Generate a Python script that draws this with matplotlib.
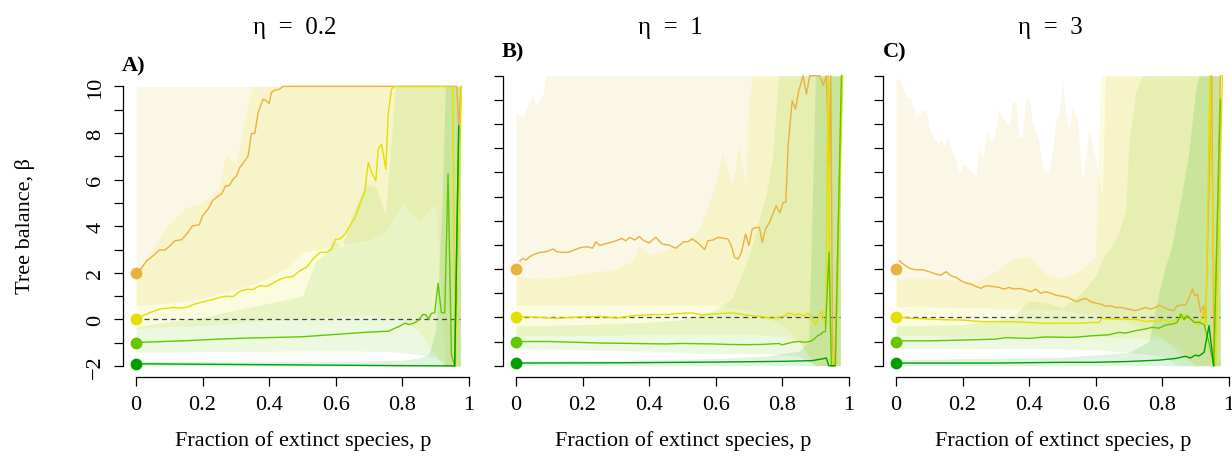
import matplotlib
matplotlib.use("Agg")
import matplotlib.pyplot as plt
import numpy as np

plt.rcParams['font.family'] = ['Liberation Serif', 'DejaVu Serif']

# ---------------- data ----------------
panel_titles = ["\u03b7  =  0.2", "\u03b7  =  1", "\u03b7  =  3"]
panel_letters = ["A)", "B)", "C)"]
x_ticks = [0, 0.2, 0.4, 0.6, 0.8, 1.0]
x_ticklabels = ["0", "0.2", "0.4", "0.6", "0.8", "1"]
y_ticks = list(range(-2, 11))
y_ticklabels = ["\u22122", "", "0", "", "2", "", "4", "", "6", "", "8", "", "10"]
start_values = [2.0, 0.0, -1.0, -1.9]
series_colors = ["#E9B23E", "#E3DF00", "#64C800", "#009E00"]
band_colors = ["#E2C23C", "#E3DF00", "#64C800", "#009E00"]

# Panel A median lines (x, beta)
A_orange = [(0, 2.0), (0.014, 2.16), (0.032, 2.52), (0.052, 2.74), (0.07, 2.98), (0.087, 2.98), (0.102, 3.16),
            (0.117, 3.38), (0.137, 3.42), (0.152, 3.66), (0.17, 4.02), (0.19, 4.06), (0.2, 4.45), (0.217, 4.74),
            (0.23, 5.09), (0.247, 5.3), (0.257, 5.38), (0.27, 5.74), (0.28, 5.74), (0.292, 6.02), (0.302, 6.16),
            (0.312, 6.52), (0.324, 6.74), (0.337, 7.02), (0.347, 7.98), (0.357, 7.98), (0.367, 8.88), (0.382, 9.45),
            (0.39, 9.4), (0.4, 9.26), (0.407, 9.74), (0.417, 9.84), (0.432, 9.88), (0.442, 10.0), (0.964, 10.0),
            (0.97, 8.3), (0.977, 10.0)]
A_yellow = [(0, 0.0), (0.014, 0.12), (0.032, 0.24), (0.052, 0.35), (0.072, 0.45), (0.092, 0.48), (0.112, 0.52),
            (0.132, 0.49), (0.152, 0.52), (0.172, 0.64), (0.202, 0.76), (0.232, 0.86), (0.252, 0.95), (0.272, 1.0),
            (0.292, 0.98), (0.312, 1.21), (0.332, 1.29), (0.352, 1.29), (0.372, 1.45), (0.392, 1.42), (0.412, 1.56),
            (0.432, 1.72), (0.452, 1.81), (0.472, 1.84), (0.492, 2.09), (0.512, 2.24), (0.532, 2.59), (0.553, 2.88),
            (0.573, 2.88), (0.588, 3.02), (0.6, 3.45), (0.613, 3.45), (0.628, 3.66), (0.643, 4.02), (0.658, 4.38),
            (0.673, 4.95), (0.688, 5.52), (0.698, 6.74), (0.708, 6.31), (0.721, 5.95), (0.728, 7.31), (0.738, 7.52),
            (0.751, 6.45), (0.758, 8.81), (0.768, 9.88), (0.778, 10.0), (0.952, 10.0), (0.96, -1.98), (0.978, 10.0)]
A_lightgreen = [(0, -1.0), (0.012, -0.98), (0.15, -0.91), (0.25, -0.84), (0.35, -0.79), (0.45, -0.76), (0.5, -0.74),
                (0.59, -0.65), (0.69, -0.55), (0.76, -0.5), (0.78, -0.36), (0.79, -0.31), (0.80, -0.22), (0.81, -0.16),
                (0.82, -0.22), (0.835, -0.16), (0.85, -0.02), (0.862, 0.21), (0.871, 0.21), (0.879, 0.02),
                (0.888, 0.26), (0.898, 0.29), (0.908, 1.55), (0.918, 0.29), (0.928, 0.29), (0.938, 6.26),
                (0.948, -1.5), (0.958, -2.0), (0.97, 8.3)]
A_green = [(0, -1.9), (0.3, -1.93), (0.5, -1.95), (0.79, -1.98), (0.95, -1.99), (0.958, -2.0), (0.97, 8.3)]

# Panel B median lines
B_orange = [(0.012, 2.34), (0.022, 2.44), (0.03, 2.37), (0.042, 2.52), (0.057, 2.62), (0.072, 2.69), (0.092, 2.72),
            (0.112, 2.83), (0.122, 2.72), (0.137, 2.69), (0.157, 2.69), (0.177, 2.8), (0.197, 2.9), (0.217, 2.92),
            (0.23, 2.86), (0.24, 3.13), (0.252, 2.97), (0.272, 3.06), (0.292, 3.13), (0.307, 3.2), (0.317, 3.27),
            (0.33, 3.17), (0.342, 3.31), (0.357, 3.2), (0.37, 3.35), (0.382, 3.2), (0.4, 3.08), (0.42, 3.31),
            (0.44, 3.03), (0.46, 2.99), (0.48, 2.86), (0.492, 2.99), (0.504, 3.13), (0.517, 3.13), (0.53, 3.24),
            (0.542, 3.13), (0.554, 2.99), (0.567, 2.8), (0.577, 3.17), (0.592, 3.2), (0.607, 3.31), (0.622, 3.28),
            (0.637, 3.24), (0.647, 2.97), (0.657, 2.48), (0.667, 2.41), (0.677, 2.66), (0.69, 3.45), (0.7, 2.97),
            (0.71, 3.66), (0.722, 3.72), (0.732, 3.72), (0.74, 3.1), (0.75, 3.66), (0.762, 3.93), (0.772, 4.28),
            (0.782, 4.62), (0.793, 4.32), (0.803, 4.76), (0.811, 4.76), (0.818, 7.1), (0.83, 8.97), (0.84, 8.62),
            (0.85, 9.38), (0.863, 10.0), (0.873, 9.24), (0.883, 10.0), (0.913, 10.0), (0.923, 9.6), (0.933, 10.0),
            (0.941, 6.3), (0.946, 10.0), (0.952, -2.0), (0.958, -2.0), (0.98, 10.0)]
B_yellow = [(0.012, 0.03), (0.072, 0.0), (0.122, -0.04), (0.182, 0.01), (0.252, 0.04), (0.302, -0.03),
            (0.352, 0.07), (0.402, 0.11), (0.452, 0.12), (0.512, 0.18), (0.53, 0.18), (0.56, 0.1), (0.59, 0.14),
            (0.62, 0.16), (0.652, 0.18), (0.69, 0.1), (0.73, 0.04), (0.77, -0.04), (0.79, 0.0), (0.81, 0.07),
            (0.82, 0.18), (0.837, 0.1), (0.852, 0.14), (0.867, 0.07), (0.877, 0.18), (0.887, 0.07), (0.901, -0.34),
            (0.918, 0.28), (0.931, -0.34), (0.938, 10.0), (0.944, -0.4), (0.952, -2.0), (0.96, -2.0), (0.982, 10.0)]
B_lightgreen = [(0.012, -1.0), (0.1, -1.0), (0.25, -1.06), (0.45, -1.1), (0.5, -1.08), (0.59, -1.1), (0.64, -1.12),
                (0.69, -1.13), (0.74, -1.12), (0.79, -1.08), (0.8, -1.14), (0.81, -1.1), (0.83, -1.03), (0.85, -1.0),
                (0.87, -1.03), (0.89, -0.97), (0.907, -0.76), (0.917, -0.69), (0.924, -0.59), (0.93, -0.59),
                (0.941, 2.7), (0.948, -2.0), (0.96, -2.0), (0.978, 10.0)]
B_green = [(0.012, -1.89), (0.3, -1.88), (0.6, -1.85), (0.8, -1.82), (0.89, -1.79), (0.92, -1.72), (0.933, -1.68),
           (0.94, -2.0), (0.958, -2.0)]

# Panel C median lines
C_orange = [(0.01, 2.34), (0.025, 2.17), (0.04, 2.03), (0.06, 1.97), (0.08, 1.97), (0.1, 1.89), (0.12, 1.79),
            (0.135, 1.75), (0.15, 1.89), (0.165, 1.72), (0.18, 1.66), (0.195, 1.52), (0.21, 1.42), (0.225, 1.38),
            (0.24, 1.28), (0.255, 1.2), (0.27, 1.31), (0.29, 1.28), (0.31, 1.24), (0.325, 1.17), (0.34, 1.24),
            (0.355, 1.17), (0.37, 1.2), (0.39, 1.14), (0.405, 1.06), (0.42, 1.17), (0.435, 1.0), (0.45, 1.06),
            (0.465, 1.0), (0.48, 0.92), (0.5, 0.87), (0.515, 0.83), (0.53, 0.73), (0.545, 0.65), (0.555, 0.73),
            (0.57, 0.79), (0.585, 0.65), (0.6, 0.59), (0.615, 0.55), (0.63, 0.46), (0.645, 0.48), (0.66, 0.41),
            (0.675, 0.41), (0.69, 0.37), (0.705, 0.32), (0.72, 0.28), (0.735, 0.34), (0.75, 0.41), (0.765, 0.34),
            (0.78, 0.41), (0.79, 0.51), (0.805, 0.41), (0.82, 0.32), (0.835, 0.28), (0.845, 0.48), (0.86, 0.51),
            (0.87, 0.51), (0.88, 0.79), (0.891, 1.17), (0.898, 0.9), (0.906, 0.96), (0.916, 0.21), (0.924, 0.48),
            (0.931, -0.07), (0.949, 10.0), (0.956, -2.0), (0.975, 10.0)]
C_yellow = [(0.01, 0.0), (0.05, -0.04), (0.1, -0.07), (0.15, -0.1), (0.2, -0.11), (0.25, -0.17), (0.3, -0.18),
            (0.35, -0.18), (0.4, -0.21), (0.45, -0.25), (0.5, -0.24), (0.55, -0.24), (0.59, -0.21), (0.61, -0.21),
            (0.62, -0.04), (0.65, -0.07), (0.69, -0.07), (0.73, -0.1), (0.75, -0.18), (0.77, -0.14), (0.79, -0.18),
            (0.8, -0.07), (0.82, -0.21), (0.84, -0.1), (0.855, -0.1), (0.866, 0.14), (0.876, -0.03), (0.896, -0.14),
            (0.911, -0.34), (0.924, 0.21), (0.931, -0.34), (0.944, 10.0), (0.961, -2.0), (0.981, 10.0)]
C_lightgreen = [(0.01, -0.97), (0.1, -0.97), (0.2, -0.94), (0.3, -0.9), (0.33, -0.84), (0.4, -0.87), (0.45, -0.81),
                (0.52, -0.83), (0.54, -0.82), (0.59, -0.76), (0.64, -0.72), (0.67, -0.62), (0.69, -0.65),
                (0.72, -0.55), (0.75, -0.48), (0.77, -0.41), (0.79, -0.45), (0.81, -0.32), (0.83, -0.28),
                (0.845, -0.21), (0.856, 0.14), (0.866, -0.1), (0.876, 0.07), (0.886, -0.07), (0.896, -0.21),
                (0.911, -0.2), (0.926, -0.3), (0.94, -1.0), (0.955, -2.0), (0.975, 9.0)]
C_green = [(0.01, -1.89), (0.3, -1.89), (0.5, -1.86), (0.59, -1.86), (0.69, -1.83), (0.79, -1.77), (0.84, -1.7),
           (0.87, -1.61), (0.885, -1.68), (0.9, -1.56), (0.91, -1.6), (0.926, -1.45), (0.941, -0.34), (0.955, -2.0)]

# Quantile bands (x, lower, upper)
A_orange_band = [(0, 0.6, 10), (0.05, 0.65, 10), (0.1, 0.7, 10), (0.15, 0.8, 10), (0.2, 0.9, 10), (0.25, 1.1, 10),
                 (0.3, 1.3, 10), (0.35, 1.5, 10), (0.4, 1.8, 10), (0.45, 2.2, 10), (0.5, 2.9, 10), (0.55, 3.0, 10),
                 (0.6, 3.2, 10), (0.65, 3.3, 10), (0.7, 3.4, 10), (0.75, 3.8, 10), (0.8, 5.0, 10), (0.85, 4.2, 10),
                 (0.9, 5.0, 10), (0.93, -2, 10), (0.975, -2, 10)]
A_yellow_band = [(0, -0.4, 2.0), (0.05, -0.35, 3.0), (0.1, -0.3, 4.1), (0.15, -0.3, 4.8), (0.2, -0.25, 5.0),
                 (0.25, -0.2, 5.6), (0.27, -0.2, 7.1), (0.3, -0.15, 6.7), (0.33, -0.1, 8.8), (0.35, -0.1, 10),
                 (0.4, -0.05, 10), (0.5, 0.0, 10), (0.6, 0.1, 10), (0.7, 0.2, 10), (0.8, 0.0, 10), (0.85, -0.5, 10),
                 (0.9, -1.5, 10), (0.93, -2, 10), (0.975, -2, 10)]
A_lightgreen_band = [(0, -1.4, -0.3), (0.1, -1.4, -0.1), (0.2, -1.38, 0.1), (0.3, -1.37, 0.4), (0.4, -1.36, 0.7),
                     (0.5, -1.35, 1.0), (0.54, -1.35, 2.5), (0.57, -1.35, 2.8), (0.59, -1.35, 3.4), (0.62, -1.35, 3.1),
                     (0.65, -1.35, 4.5), (0.69, -1.36, 5.8), (0.72, -1.36, 5.7), (0.75, -1.38, 4.5),
                     (0.78, -1.4, 10), (0.85, -1.5, 10), (0.9, -1.6, 10), (0.93, -2, 10), (0.975, -2, 10)]
A_green_band = [(0, -2, -1.78), (0.3, -2, -1.8), (0.6, -2, -1.8), (0.8, -2, -1.75), (0.85, -2, -1.65),
                (0.88, -2, -1.5), (0.9, -2, -0.5), (0.91, -2, 2.0), (0.92, -2, 5.0), (0.93, -2, 10), (0.975, -2, 10)]

B_orange_band = [(0, 0.5, 8.5), (0.02, 0.5, 8.3), (0.05, 0.5, 9.2), (0.06, 0.5, 8.8), (0.08, 0.5, 9.2),
                 (0.09, 0.5, 10), (0.4, 0.5, 10), (0.6, 0.5, 10), (0.7, 0.3, 10), (0.8, -0.3, 10), (0.85, -1.0, 10),
                 (0.9, -2, 10), (0.975, -2, 10)]
B_yellow_band = [(0, -0.75, 1.7), (0.05, -0.75, 1.6), (0.1, -0.75, 1.6), (0.15, -0.75, 1.7), (0.2, -0.75, 1.8),
                 (0.25, -0.75, 1.9), (0.3, -0.75, 2.0), (0.35, -0.7, 2.3), (0.37, -0.7, 3.0), (0.4, -0.7, 2.6),
                 (0.45, -0.7, 2.8), (0.5, -0.7, 3.1), (0.55, -0.7, 3.6), (0.6, -0.7, 5.5), (0.62, -0.7, 6.8),
                 (0.65, -0.7, 5.5), (0.67, -0.7, 7.1), (0.69, -0.7, 5.4), (0.7, -0.7, 9.0), (0.71, -0.7, 10),
                 (0.8, -0.8, 10), (0.85, -1.0, 10), (0.9, -2, 10), (0.975, -2, 10)]
B_lightgreen_band = [(0, -1.3, -0.35), (0.2, -1.35, -0.3), (0.4, -1.4, -0.2), (0.5, -1.45, -0.1), (0.6, -1.5, 0.3),
                     (0.65, -1.5, 0.8), (0.7, -1.5, 2.5), (0.72, -1.5, 3.5), (0.75, -1.5, 5.0), (0.77, -1.5, 6.5),
                     (0.79, -1.55, 10), (0.85, -1.6, 10), (0.9, -2, 10), (0.975, -2, 10)]
B_green_band = [(0, -2, -1.8), (0.3, -2, -1.78), (0.6, -2, -1.7), (0.75, -2, -1.6), (0.8, -2, -1.5),
                (0.85, -2, -1.4), (0.88, -2, -1.0), (0.9, -2, 10), (0.975, -2, 10)]

C_orange_band = [(0, 0.45, 9.9), (0.01, 0.45, 9.86), (0.03, 0.45, 9.17), (0.045, 0.45, 9.03), (0.06, 0.45, 8.34),
                 (0.08, 0.44, 8.55), (0.09, 0.44, 8.62), (0.1, 0.44, 7.79), (0.115, 0.43, 7.38), (0.125, 0.43, 7.17),
                 (0.135, 0.43, 7.38), (0.145, 0.42, 7.1), (0.155, 0.42, 7.52), (0.165, 0.42, 6.97),
                 (0.18, 0.41, 6.55), (0.19, 0.41, 6.0), (0.205, 0.4, 6.34), (0.22, 0.4, 6.14), (0.24, 0.4, 5.79),
                 (0.25, 0.4, 7.1), (0.26, 0.39, 6.48), (0.275, 0.39, 7.72), (0.285, 0.39, 7.24), (0.295, 0.38, 7.45),
                 (0.31, 0.38, 8.69), (0.32, 0.37, 8.28), (0.34, 0.37, 7.93), (0.35, 0.36, 8.9), (0.36, 0.36, 8.9),
                 (0.37, 0.36, 7.45), (0.38, 0.35, 7.45), (0.39, 0.35, 9.03), (0.4, 0.35, 9.17), (0.41, 0.34, 8.07),
                 (0.42, 0.34, 7.72), (0.43, 0.33, 7.24), (0.44, 0.33, 6.28), (0.45, 0.32, 6.0), (0.46, 0.32, 6.14),
                 (0.47, 0.31, 6.83), (0.48, 0.31, 8.21), (0.49, 0.3, 8.34), (0.5, 0.3, 9.86), (0.51, 0.28, 8.48),
                 (0.52, 0.26, 7.79), (0.53, 0.24, 8.76), (0.545, 0.2, 8.2), (0.56, 0.18, 5.72), (0.58, 0.15, 7.8),
                 (0.6, 0.1, 6.55), (0.62, 0.05, 5.0), (0.63, 0.0, 10), (0.7, -0.2, 10), (0.8, -0.8, 10),
                 (0.85, -1.5, 10), (0.9, -2, 10), (0.975, -2, 10)]
C_yellow_band = [(0, -0.75, 1.6), (0.1, -0.75, 1.6), (0.2, -0.8, 1.5), (0.25, -0.8, 1.55), (0.3, -0.8, 1.9),
                 (0.35, -0.8, 2.4), (0.4, -0.8, 2.55), (0.45, -0.8, 1.8), (0.5, -0.8, 1.6), (0.55, -0.8, 1.9),
                 (0.6, -0.8, 2.5), (0.615, -0.8, 10), (0.8, -0.9, 10), (0.85, -1.2, 10), (0.9, -2, 10),
                 (0.975, -2, 10)]
C_lightgreen_band = [(0, -1.3, -0.35), (0.2, -1.3, -0.3), (0.35, -1.3, 0.0), (0.4, -1.3, 0.7), (0.45, -1.3, 0.6),
                     (0.5, -1.3, 0.4), (0.55, -1.35, 0.9), (0.6, -1.35, 1.7), (0.62, -1.35, 2.4), (0.65, -1.4, 3.0),
                     (0.67, -1.4, 3.5), (0.69, -1.4, 4.5), (0.7, -1.45, 7.2), (0.72, -1.5, 9.3), (0.74, -1.5, 10),
                     (0.8, -1.6, 10), (0.85, -2, 10), (0.975, -2, 10)]
C_green_band = [(0, -2, -1.75), (0.5, -2, -1.65), (0.7, -2, -1.45), (0.76, -2, -1.0), (0.79, -2, 1.0),
                (0.81, -2, 2.1), (0.83, -2, 3.0), (0.86, -2, 5.2), (0.88, -2, 6.8), (0.9, -2, 9.3), (0.91, -2, 10),
                (0.975, -2, 10)]

panel_lines = [[A_orange, A_yellow, A_lightgreen, A_green],
               [B_orange, B_yellow, B_lightgreen, B_green],
               [C_orange, C_yellow, C_lightgreen, C_green]]
panel_bands = [[A_orange_band, A_yellow_band, A_lightgreen_band, A_green_band],
               [B_orange_band, B_yellow_band, B_lightgreen_band, B_green_band],
               [C_orange_band, C_yellow_band, C_lightgreen_band, C_green_band]]

# ---------------- layout ----------------
W, H = 1232, 464
fig = plt.figure(figsize=(W / 100, H / 100), dpi=100)


def fx(px):
    return px / W


def fy(py):
    return 1 - py / H


# axes boxes in pixels: left, top, right, bottom
boxes = [(122.7, 76.2, 482.0, 378.3), (502.7, 65.1, 862.0, 378.3), (882.7, 65.1, 1242.0, 378.3)]
title_x = [295, 670, 1050]
letter_pos = [(122, 66), (502, 52), (883, 52)]
xlabel_x = [303, 683, 1063]

FS = 16
for i in range(3):
    l, t, r, b = boxes[i]
    ax = fig.add_axes([fx(l), fy(b), fx(r) - fx(l), fy(t) - fy(b)])
    ax.set_xlim(-0.04, 1.04)
    ax.set_ylim(-2.48, 10.48)
    ax.patch.set_alpha(0)

    for band, col in zip(panel_bands[i], band_colors):
        bx = [p[0] for p in band]
        lo = [p[1] for p in band]
        hi = [p[2] for p in band]
        ax.fill_between(bx, lo, hi, color=col, alpha=0.12, linewidth=0, zorder=1)

    ax.plot([0.025, 0.975], [0, 0], color="#444444", lw=0.9, ls=(0, (4, 3)), zorder=2)

    for line, col in zip(panel_lines[i], series_colors):
        lx = [p[0] for p in line]
        ly = [p[1] for p in line]
        ax.plot(lx, ly, color=col, lw=1.0, zorder=3)

    for v, col in zip(start_values, series_colors):
        ax.plot([0], [v], 'o', color=col, ms=8.5, mec='none', zorder=4, clip_on=False)

    for s in ['top', 'right']:
        ax.spines[s].set_visible(False)
    ax.spines['left'].set_bounds(-2, 10)
    ax.spines['bottom'].set_bounds(0, 1)
    ax.spines['left'].set_linewidth(0.9)
    ax.spines['bottom'].set_linewidth(0.9)
    ax.set_xticks(x_ticks)
    ax.set_xticklabels(x_ticklabels)
    ax.set_yticks(y_ticks)
    if i == 0:
        ax.set_yticklabels(y_ticklabels, rotation=90, va='center')
    else:
        ax.set_yticklabels([])
    ax.tick_params(axis='both', direction='out', length=6.5, width=0.9, labelsize=FS, pad=6)

    fig.text(fx(title_x[i]), fy(28), panel_titles[i], ha='center', va='center', fontsize=18)
    fig.text(fx(letter_pos[i][0]), fy(letter_pos[i][1]), panel_letters[i], ha='left', va='center',
             fontsize=FS, fontweight='bold')
    fig.text(fx(xlabel_x[i]), fy(441), "Fraction of extinct species, p", ha='center', va='center', fontsize=FS)

fig.text(fx(25), fy(226), "Tree balance, \u03b2", rotation=90, ha='center', va='center', fontsize=FS)

fig.savefig("out.png", dpi=100)
